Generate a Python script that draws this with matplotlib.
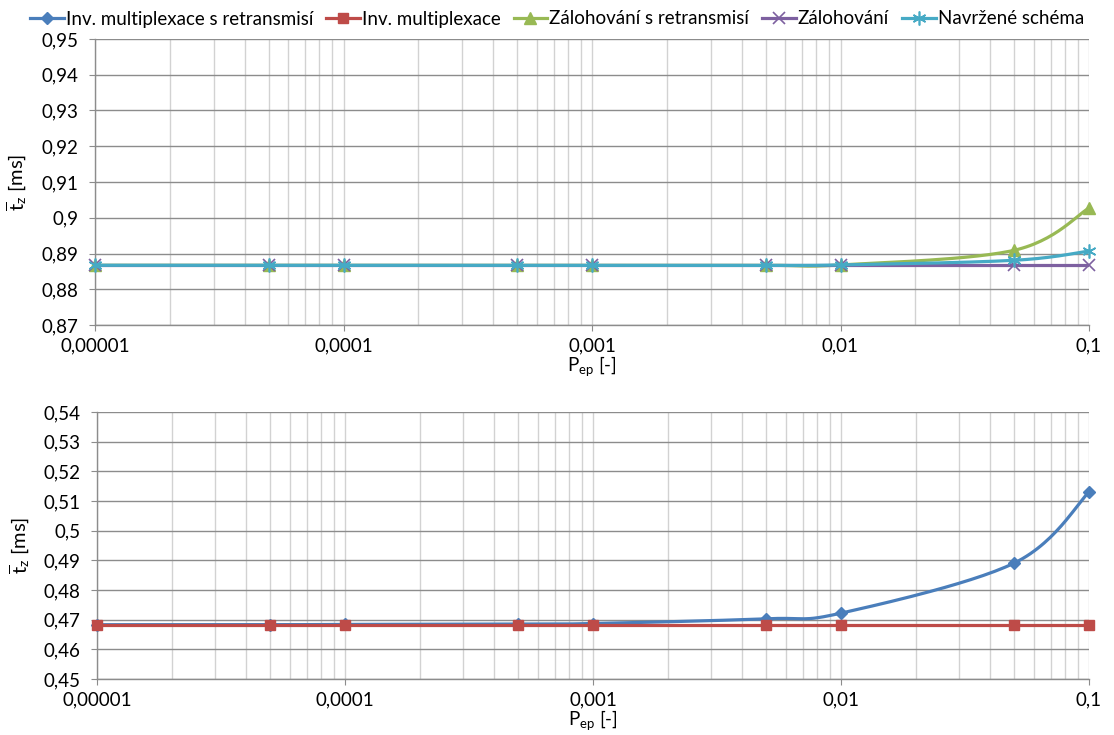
import numpy as np
import matplotlib
matplotlib.use("Agg")
import matplotlib.pyplot as plt
from matplotlib.ticker import FixedLocator, FuncFormatter, NullFormatter
from matplotlib.lines import Line2D

plt.rcParams['font.family'] = ['Lato', 'DejaVu Sans']
plt.rcParams['mathtext.fontset'] = 'custom'
plt.rcParams['mathtext.rm'] = 'Lato'
plt.rcParams['mathtext.it'] = 'Lato:italic'

# ---------------- data ----------------
p_ep = [0.00001, 0.00005, 0.0001, 0.0005, 0.001, 0.005, 0.01, 0.05, 0.1]

# top chart
zal_retr = [0.8867, 0.8867, 0.8867, 0.8867, 0.8867, 0.8867, 0.8868, 0.8909, 0.9027]
zal = [0.8867, 0.8867, 0.8867, 0.8867, 0.8867, 0.8867, 0.8867, 0.8867, 0.8867]
navrh = [0.8867, 0.8867, 0.8867, 0.8867, 0.8867, 0.8867, 0.8868, 0.8881, 0.8907]

# bottom chart
inv_retr = [0.4683, 0.4683, 0.4684, 0.4685, 0.4687, 0.4703, 0.4722, 0.4891, 0.5130]
inv = [0.4683, 0.4683, 0.4683, 0.4683, 0.4683, 0.4683, 0.4683, 0.4683, 0.4683]

names = ["Inv. multiplexace s retransmisí", "Inv. multiplexace",
         "Zálohování s retransmisí", "Zálohování", "Navržené schéma"]
x_ticks = [0.00001, 0.0001, 0.001, 0.01, 0.1]
x_tick_labels = ["0,00001", "0,0001", "0,001", "0,01", "0,1"]

C_BLUE = "#4A7EBB"
C_RED = "#BE4B48"
C_GREEN = "#98B954"
C_PURPLE = "#7D60A0"
C_CYAN = "#46AAC5"
STAR = (6, 2, 0)
FS = 13.5

W, H = 1114, 735
fig = plt.figure(figsize=(W / 100, H / 100), dpi=100)


def frac_axes(l, t, r, b):
    return fig.add_axes([l / W, 1 - b / H, (r - l) / W, (b - t) / H])


ax1 = frac_axes(95, 39, 1089, 325)
ax2 = frac_axes(97, 412, 1089, 679)


def ytick_fmt(v, pos):
    s = f"{v:.2f}".rstrip('0').rstrip('.')
    return s.replace('.', ',')


def style(ax, ylim, ystep):
    ax.set_xscale('log')
    ax.set_xlim(1e-5, 0.1)
    ax.set_ylim(*ylim)
    ax.xaxis.set_major_locator(FixedLocator(x_ticks))
    ax.set_xticklabels(x_tick_labels)
    minors = [m * 10.0 ** e for e in range(-5, -1) for m in range(2, 10)]
    ax.xaxis.set_minor_locator(FixedLocator(minors))
    ax.xaxis.set_minor_formatter(NullFormatter())
    yt = np.round(np.arange(ylim[0], ylim[1] + ystep / 2, ystep), 3)
    ax.yaxis.set_major_locator(FixedLocator(yt))
    ax.yaxis.set_major_formatter(FuncFormatter(ytick_fmt))
    ax.grid(True, which='major', axis='y', color='#8C8C8C', lw=1.0)
    ax.grid(True, which='both', axis='x', color='#D2D2D2', lw=1.0)
    ax.set_axisbelow(True)
    for s in ['top', 'right']:
        ax.spines[s].set_visible(False)
    for s in ['left', 'bottom']:
        ax.spines[s].set_color('#8C8C8C')
        ax.spines[s].set_linewidth(1.0)
    ax.tick_params(axis='both', which='major', direction='out', length=4,
                   color='#8C8C8C', labelsize=FS, labelcolor='black')
    ax.tick_params(axis='x', which='major', pad=5)
    ax.tick_params(axis='y', which='major', pad=8)
    ax.tick_params(axis='x', which='minor', length=0)
    ax.set_xlabel(r"P$_{\mathrm{ep}}$ [-]", fontsize=FS, labelpad=0)
    ax.set_ylabel(r"$\overline{\mathrm{t}}_{\mathrm{z}}$ [ms]", fontsize=FS + 1)
    ax.yaxis.set_label_coords(-0.066, 0.5)


style(ax1, (0.87, 0.95), 0.01)
style(ax2, (0.45, 0.54), 0.01)


def smooth(ax, xs, ys, n=30):
    pts = ax.transData.transform(np.column_stack([xs, ys]))
    P = np.vstack([pts[0], pts, pts[-1]])
    out = []
    for i in range(1, len(P) - 2):
        p0, p1, p2, p3 = P[i - 1], P[i], P[i + 1], P[i + 2]
        c1 = p1 + (p2 - p0) / 6.0
        c2 = p2 - (p3 - p1) / 6.0
        t = np.linspace(0, 1, n)[:, None]
        seg = ((1 - t) ** 3) * p1 + 3 * ((1 - t) ** 2) * t * c1 + 3 * (1 - t) * t ** 2 * c2 + t ** 3 * p2
        out.append(seg if i == 1 else seg[1:])
    curve = np.vstack(out)
    return ax.transData.inverted().transform(curve)


def series(ax, xs, ys, color, marker, ms, mew=1.0, z=3):
    c = smooth(ax, xs, ys)
    ax.plot(c[:, 0], c[:, 1], color=color, lw=2.3, zorder=z, solid_capstyle='round')
    ax.plot(xs, ys, linestyle='none', marker=marker, ms=ms, color=color,
            mec=color, mfc=color, mew=mew, zorder=z + 0.5, clip_on=False)


series(ax1, p_ep, zal_retr, C_GREEN, '^', 8, z=3)
series(ax1, p_ep, zal, C_PURPLE, 'x', 8, mew=1.2, z=4)
series(ax1, p_ep, navrh, C_CYAN, STAR, 10, mew=1.2, z=5)

series(ax2, p_ep, inv_retr, C_BLUE, 'D', 6, z=3)
series(ax2, p_ep, inv, C_RED, 's', 7.5, z=4)

handles = [
    Line2D([], [], color=C_BLUE, lw=2.3, marker='D', ms=6),
    Line2D([], [], color=C_RED, lw=2.3, marker='s', ms=7.5),
    Line2D([], [], color=C_GREEN, lw=2.3, marker='^', ms=8),
    Line2D([], [], color=C_PURPLE, lw=2.3, marker='x', ms=8, mew=1.2),
    Line2D([], [], color=C_CYAN, lw=2.3, marker=STAR, ms=10, mew=1.2),
]
fig.legend(handles, names, loc='center', bbox_to_anchor=(0.5, 1 - 19 / H), ncol=5,
           frameon=False, fontsize=FS, handlelength=1.8, handletextpad=0.1,
           columnspacing=0.7, borderaxespad=0)

fig.savefig("out.png", dpi=100)
